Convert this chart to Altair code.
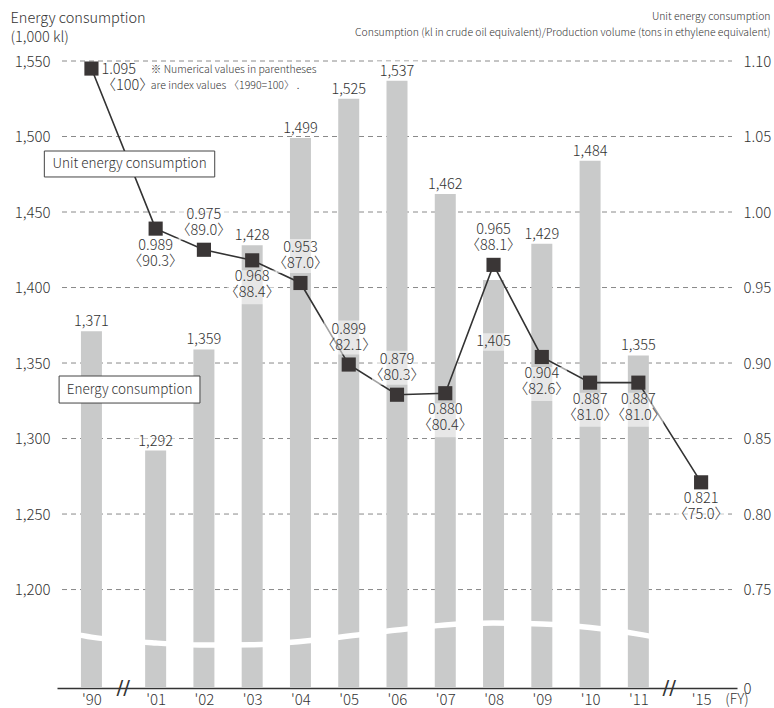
import altair as alt
import pandas as pd

# ---- data -------------------------------------------------------------
years = ["'90", "'01", "'02", "'03", "'04", "'05", "'06", "'07", "'08", "'09", "'10", "'11", "'15"]
energy = [1371, 1292, 1359, 1428, 1499, 1525, 1537, 1462, 1405, 1429, 1484, 1355, None]
unit = [1.095, 0.989, 0.975, 0.968, 0.953, 0.899, 0.879, 0.880, 0.965, 0.904, 0.887, 0.887, 0.821]
index = ["100", "90.3", "89.0", "88.4", "87.0", "82.1", "80.3", "80.4", "88.1", "82.6", "81.0", "81.0", "75.0"]
left_ticks = [1200, 1250, 1300, 1350, 1400, 1450, 1500, 1550]
right_ticks = [0.75, 0.80, 0.85, 0.90, 0.95, 1.00, 1.05, 1.10]

# ---- layout -----------------------------------------------------------
# horizontal slot of each fiscal year (axis is broken after '90 and after '11)
slots = [-1.33, 0, 1, 2, 3, 4, 5, 6, 7, 8, 9, 10, 11.3]
unit_label_place = ["right", "below", "above", "below", "above", "above", "above",
                    "below", "above", "below", "below", "below", "below"]
energy_label_place = ["above"] * 8 + ["inside"] + ["above"] * 3 + [None]
# wavy white cut drawn across the bars (left-axis units)
break_x = [-1.75, -1.33, 0, 1, 2, 3, 4, 5, 6, 7, 8, 9, 10, 10.5]
break_y = [1170.8, 1168.5, 1164.6, 1163.2, 1163.4, 1165.6, 1169.2, 1173.2,
           1176.5, 1177.8, 1177.2, 1174.8, 1170.5, 1167.5]
axis_breaks = [-0.67, 10.64]

LEFT = [1134.8, 1550]
RIGHT = [0.6848, 1.10]
XDOM = [-1.94, 11.94]
W, H = 680, 627

FONT = "Noto Sans CJK JP"
INK = "#333333"
LIGHT = 300
LBL = 14.5   # size of the value labels
LH = 16      # line height of the two-line value labels

df = pd.DataFrame({
    "year": years, "slot": slots, "energy": energy, "unit": unit,
    "uplace": unit_label_place, "eplace": energy_label_place,
})
df["utext"] = [f"{u:.3f}\n〈{i}〉" for u, i in zip(unit, index)]
df["etext"] = [f"{e:,}" if e is not None else "" for e in energy]
bars_df = df[df["energy"].notna()]
break_df = pd.DataFrame({"slot": break_x, "lvl": break_y})
slash_df = pd.DataFrame({"slot": axis_breaks, "lvl": [LEFT[0]] * 2, "t": ["//", "//"]})
# each dashed guide runs across the whole x domain
grid_df = pd.DataFrame({"v": [v for v in left_ticks for _ in XDOM],
                        "slot": [x for _ in left_ticks for x in XDOM]})

# x label expression built from the year list
label_expr = " : ".join(f"datum.value == {s} ? \"{y}\"" for s, y in zip(slots, years)) + " : ''"

x_axis = alt.Axis(values=slots, labelExpr=label_expr, grid=False, ticks=False,
                  domain=True, domainColor=INK, domainWidth=1.4,
                  labelFont=FONT, labelFontSize=15, labelFontWeight=LIGHT, labelColor=INK,
                  labelPadding=4, labelOverlap=False, title=None)
x_scale = alt.Scale(domain=XDOM, nice=False, zero=False)


def xq(field="slot"):
    return alt.X(field, type="quantitative", scale=x_scale, axis=x_axis)


def y_left(field, axis=None):
    return alt.Y(field, type="quantitative",
                 scale=alt.Scale(domain=LEFT, nice=False, zero=False), axis=axis)


def y_right(field, axis=None):
    return alt.Y(field, type="quantitative",
                 scale=alt.Scale(domain=RIGHT, nice=False, zero=False), axis=axis)


left_axis = alt.Axis(values=left_ticks, labelExpr="format(datum.value, ',d')",
                     grid=False, domain=False, ticks=False, labelPadding=7,
                     labelFont=FONT, labelFontSize=15, labelFontWeight=LIGHT, labelColor=INK,
                     title=["Energy consumption", "(1,000 kl)"], titleAngle=0,
                     titleAlign="left", titleBaseline="top", titleX=-47, titleY=-50,
                     titleFont=FONT, titleFontSize=14.5, titleFontWeight=LIGHT,
                     titleColor=INK, titleLineHeight=19)

right_axis = alt.Axis(orient="right", values=[RIGHT[0]] + right_ticks,
                      labelExpr="datum.value < 0.7 ? '0' : format(datum.value, '.2f')",
                      grid=False, domain=False, ticks=False, labelPadding=6,
                      labelFont=FONT, labelFontSize=15, labelFontWeight=LIGHT, labelColor=INK,
                      title=["Unit energy consumption",
                             "Consumption (kl in crude oil equivalent)/Production volume (tons in ethylene equivalent)"],
                      titleAngle=0, titleAlign="right", titleBaseline="top", titleX=33, titleY=-50,
                      titleFont=FONT, titleFontSize=10.4, titleFontWeight=LIGHT,
                      titleColor=INK, titleLineHeight=16)

# ---- dashed guide lines at the left-axis ticks ------------------------
grid = alt.Chart(grid_df).mark_line(color="#8a8a8a", strokeWidth=1, strokeDash=[5, 4]).encode(
    x=xq(), y=y_left("v"), detail="v:N")

# ---- energy consumption (left scale) ----------------------------------
bars = alt.Chart(bars_df).mark_bar(color="#c9caca", width=21).encode(
    x=xq(), y=y_left("energy", left_axis), y2=alt.datum(LEFT[0]))

cut = alt.Chart(break_df).mark_line(color="white", strokeWidth=5.5, interpolate="monotone").encode(
    x=xq(), y=y_left("lvl"))

BOX = "M-1,-0.38H1V0.38H-1Z"
above = alt.Chart(bars_df).transform_filter("datum.eplace == 'above'")
inside = alt.Chart(bars_df).transform_filter("datum.eplace == 'inside'")
ebox_above = above.mark_point(shape=BOX, filled=True, color="white", opacity=0.55,
                              size=46 * 46, yOffset=-11).encode(x=xq(), y=y_left("energy"))
elab_above = above.mark_text(font=FONT, fontSize=LBL, fontWeight=LIGHT, color=INK,
                             baseline="bottom", dy=-2).encode(
    x=xq(), y=y_left("energy"), text="etext:N")
ebox_in = inside.mark_point(shape=BOX, filled=True, color="white", opacity=0.55,
                            size=46 * 46, yOffset=62).encode(x=xq(), y=y_left("energy"))
elab_in = inside.mark_text(font=FONT, fontSize=LBL, fontWeight=LIGHT, color=INK,
                           baseline="middle", dy=62).encode(
    x=xq(), y=y_left("energy"), text="etext:N")

slashes = alt.Chart(slash_df).mark_text(font="DejaVu Sans", fontSize=20, color=INK,
                                        baseline="middle").encode(
    x=xq(), y=y_left("lvl"), text="t:N")

# ---- unit energy consumption (right scale) ----------------------------
line = alt.Chart(df).mark_line(color="#333333", strokeWidth=1.6).encode(
    x=xq(), y=y_right("unit", right_axis))
squares = alt.Chart(df).mark_square(size=200, color="#3a3636", opacity=1).encode(
    x=xq(), y=y_right("unit"))

UBOX = "M-1,-0.68H1V0.68H-1Z"
ulayers = []
for place, off, dy in [("above", -27, -42), ("below", 27, 10)]:
    sub = alt.Chart(df).transform_filter(f"datum.uplace == '{place}'")
    ulayers.append(sub.mark_point(shape=UBOX, filled=True, color="white", opacity=0.55,
                                  size=50 * 50, yOffset=off).encode(x=xq(), y=y_right("unit")))
    ulayers.append(sub.mark_text(font=FONT, fontSize=LBL, fontWeight=LIGHT, color=INK,
                                 baseline="top", dy=dy, lineBreak="\n", lineHeight=LH).encode(
        x=xq(), y=y_right("unit"), text="utext:N"))
ulayers.append(alt.Chart(df).transform_filter("datum.uplace == 'right'").mark_text(
    font=FONT, fontSize=LBL, fontWeight=LIGHT, color=INK, align="left", baseline="top",
    dx=10, dy=-6, lineBreak="\n", lineHeight=LH).encode(x=xq(), y=y_right("unit"), text="utext:N"))

# ---- annotations (left scale) -----------------------------------------
legend_df = pd.DataFrame({
    "x0": [-2.306, -2.0], "x1": [1.224, 0.918],
    "y0": [1473.2, 1323.5], "y1": [1490.4, 1341.4],
    "xc": [-0.54, -0.54], "yc": [1481.8, 1332.4],
    "t": ["Unit energy consumption", "Energy consumption"],
})
legend_boxes = alt.Chart(legend_df).mark_rect(fill="white", stroke="#444444", strokeWidth=1).encode(
    x=xq("x0"), x2="x1", y=y_left("y0"), y2="y1")
legend_text = alt.Chart(legend_df).mark_text(font=FONT, fontSize=13.5, fontWeight=LIGHT, color=INK,
                                             baseline="middle").encode(
    x=xq("xc"), y=y_left("yc"), text="t:N")

note_df = pd.DataFrame({"slot": [-0.1], "lvl": [1544.0],
                        "t": ["※ Numerical values in parentheses\nare index values 〈1990=100〉 ."]})
note = alt.Chart(note_df).mark_text(font=FONT, fontSize=10.5, fontWeight=LIGHT, color=INK,
                                    align="left", baseline="middle", lineBreak="\n",
                                    lineHeight=16).encode(
    x=xq(), y=y_left("lvl"), text="t:N")

fy_df = pd.DataFrame({"slot": [11.8], "lvl": [LEFT[0]], "t": ["(FY)"]})
fy = alt.Chart(fy_df).mark_text(font=FONT, fontSize=14, fontWeight=LIGHT, color=INK,
                                align="left", baseline="top", dy=5).encode(
    x=xq(), y=y_left("lvl"), text="t:N")

chart = alt.layer(
    grid, bars, cut, ebox_above, elab_above, ebox_in, elab_in, slashes,
    line, squares, *ulayers,
    legend_boxes, legend_text, note, fy,
).resolve_scale(y="independent").properties(
    width=W, height=H,
    autosize=alt.AutoSizeParams(type="none"),
    padding={"left": 57, "top": 61, "right": 37, "bottom": 20},
    background="white",
).configure_view(stroke=None)

chart.save("out.html", embed_options={"renderer": "svg", "actions": False})
